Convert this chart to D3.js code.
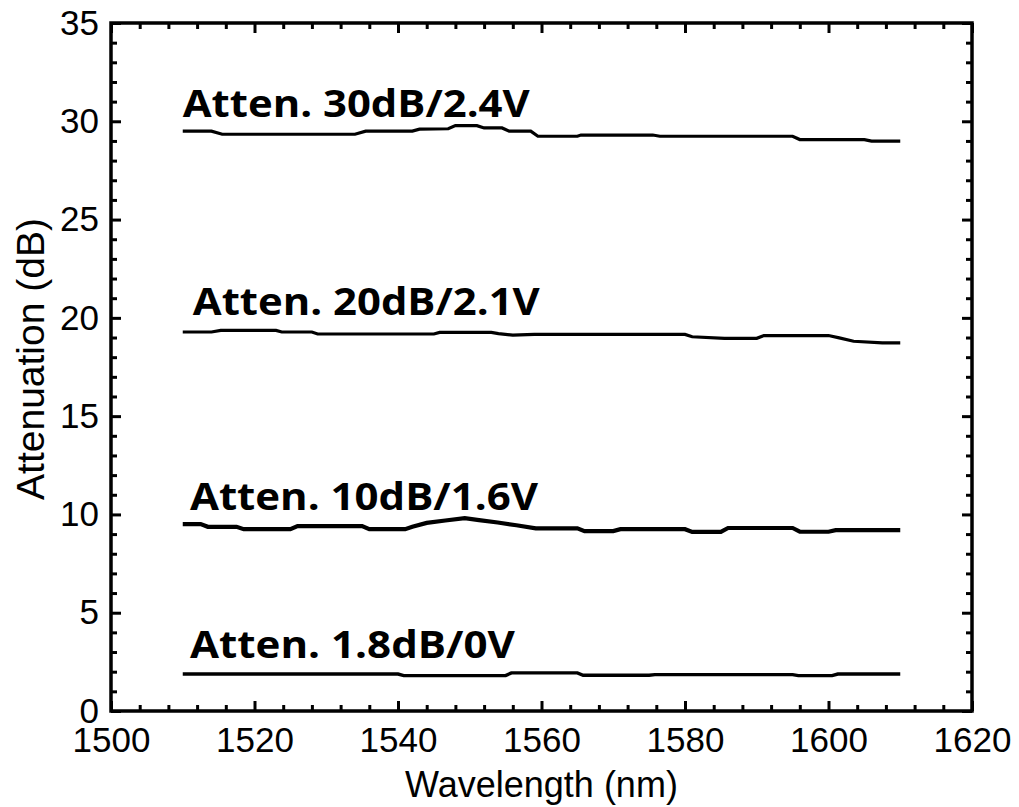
<!DOCTYPE html>
<html>
<head>
<meta charset="utf-8">
<script src="https://cdn.jsdelivr.net/npm/d3@7"></script>
<style>
  html, body { margin: 0; padding: 0; background: #fff; }
  svg { display: block; }
</style>
</head>
<body>
<svg id="chart" width="1019" height="807"></svg>
<script>
// Attenuation spectra of the variable optical attenuator at four drive voltages.

// Wavelength breakpoints (nm) and attenuation (dB) for each setting
const wl30 = [1510, 1514, 1515.5, 1534, 1535.5, 1542, 1543, 1547, 1548, 1551, 1552, 1554.5, 1555.5, 1558.5, 1559.5, 1565, 1565.5, 1575.5, 1576.5, 1595, 1596, 1605, 1606, 1610];
const att30 = [29.50, 29.50, 29.34, 29.34, 29.50, 29.50, 29.60, 29.62, 29.78, 29.78, 29.66, 29.66, 29.50, 29.50, 29.24, 29.24, 29.30, 29.30, 29.24, 29.24, 29.07, 29.07, 28.99, 28.99];

const wl20 = [1510, 1514, 1515.3, 1523, 1523.8, 1528, 1528.8, 1545, 1545.8, 1553, 1554, 1556, 1559, 1580, 1581, 1585.5, 1590, 1591, 1600, 1601.5, 1603.5, 1607.5, 1610];
const att20 = [19.28, 19.28, 19.36, 19.36, 19.28, 19.28, 19.18, 19.18, 19.26, 19.26, 19.20, 19.12, 19.16, 19.16, 19.04, 18.96, 18.96, 19.10, 19.10, 18.98, 18.81, 18.73, 18.73];

const wl10 = [1510, 1512.5, 1513.5, 1517.5, 1518.5, 1525, 1526, 1535, 1536, 1541, 1542, 1544, 1546.6, 1549.3, 1551.3, 1553.9, 1556.5, 1559.2, 1565, 1566, 1570, 1571, 1580, 1581, 1585, 1586, 1595, 1596, 1600, 1601, 1610];
const att10 = [9.51, 9.51, 9.37, 9.37, 9.25, 9.25, 9.41, 9.41, 9.25, 9.25, 9.37, 9.57, 9.69, 9.81, 9.71, 9.59, 9.45, 9.29, 9.29, 9.15, 9.15, 9.25, 9.25, 9.11, 9.11, 9.31, 9.31, 9.12, 9.12, 9.20, 9.20];

const wl18 = [1510, 1540, 1540.8, 1555, 1555.8, 1565, 1565.8, 1575, 1575.8, 1595, 1595.8, 1600.5, 1601.3, 1610];
const att18 = [1.88, 1.88, 1.80, 1.80, 1.94, 1.94, 1.82, 1.82, 1.85, 1.85, 1.80, 1.80, 1.88, 1.88];

const seriesNames = ["Atten. 30dB/2.4V", "Atten. 20dB/2.1V", "Atten. 10dB/1.6V", "Atten. 1.8dB/0V"];

const xMajorTicks = [1500, 1520, 1540, 1560, 1580, 1600, 1620];
const yMajorTicks = [0, 5, 10, 15, 20, 25, 30, 35];

const xTitle = "Wavelength (nm)";
const yTitle = "Attenuation (dB)";

// ---- layout ----
const svg = d3.select("#chart");
const plotL = 111, plotR = 972, plotT = 23, plotB = 711;

const x = d3.scaleLinear().domain([1500, 1620]).range([plotL, plotR]);
const y = d3.scaleLinear().domain([0, 35]).range([plotB, plotT]);

const xMinor = d3.range(1500, 1620.001, 4).filter(v => !xMajorTicks.includes(v));
const yMinor = d3.range(0, 35.001, 1).filter(v => !yMajorTicks.includes(v));

const tickFont = "'Liberation Sans', Arial, sans-serif";

function styleAxis(g) {
  g.select(".domain").remove();
  g.selectAll(".tick line").attr("stroke", "#000").attr("stroke-width", 3);
  g.selectAll(".tick text").attr("fill", "#000").style("font-family", tickFont).style("font-size", "35px");
}

// bottom axis with labels, ticks pointing inward
svg.append("g").attr("transform", `translate(0,${plotB})`)
  .call(d3.axisBottom(x).tickValues(xMajorTicks).tickSize(-10).tickPadding(16).tickFormat(d3.format("d")))
  .call(styleAxis);
svg.append("g").attr("transform", `translate(0,${plotB})`)
  .call(d3.axisBottom(x).tickValues(xMinor).tickSize(-6).tickFormat(""))
  .call(styleAxis);
// top mirror
svg.append("g").attr("transform", `translate(0,${plotT})`)
  .call(d3.axisTop(x).tickValues(xMajorTicks).tickSize(-10).tickFormat(""))
  .call(styleAxis);
svg.append("g").attr("transform", `translate(0,${plotT})`)
  .call(d3.axisTop(x).tickValues(xMinor).tickSize(-6).tickFormat(""))
  .call(styleAxis);
// left axis with labels
svg.append("g").attr("transform", `translate(${plotL},0)`)
  .call(d3.axisLeft(y).tickValues(yMajorTicks).tickSize(-10).tickPadding(12).tickFormat(d3.format("d")))
  .call(styleAxis);
svg.append("g").attr("transform", `translate(${plotL},0)`)
  .call(d3.axisLeft(y).tickValues(yMinor).tickSize(-6).tickFormat(""))
  .call(styleAxis);
// right mirror
svg.append("g").attr("transform", `translate(${plotR},0)`)
  .call(d3.axisRight(y).tickValues(yMajorTicks).tickSize(-10).tickFormat(""))
  .call(styleAxis);
svg.append("g").attr("transform", `translate(${plotR},0)`)
  .call(d3.axisRight(y).tickValues(yMinor).tickSize(-6).tickFormat(""))
  .call(styleAxis);

// frame
svg.append("rect")
  .attr("x", plotL).attr("y", plotT)
  .attr("width", plotR - plotL).attr("height", plotB - plotT)
  .attr("fill", "none").attr("stroke", "#000").attr("stroke-width", 3.5);

// ---- curves ----
const series = [
  { wl: wl30, att: att30, w: 3.2 },
  { wl: wl20, att: att20, w: 3.2 },
  { wl: wl10, att: att10, w: 4.2 },
  { wl: wl18, att: att18, w: 3.4 }
];
const line = d3.line().x(d => x(d[0])).y(d => y(d[1]));
series.forEach(s => {
  svg.append("path")
    .datum(d3.zip(s.wl, s.att))
    .attr("d", line)
    .attr("fill", "none")
    .attr("stroke", "#000")
    .attr("stroke-width", s.w)
    .attr("stroke-linejoin", "miter");
});

// ---- curve labels ----
const labelAnchors = [
  { wl: 1510, db: 30.2, w: 347 },
  { wl: 1511.4, db: 20.14, w: 347 },
  { wl: 1511, db: 10.22, w: 348 },
  { wl: 1511, db: 2.7, w: 325 }
];
seriesNames.forEach((name, i) => {
  const a = labelAnchors[i];
  svg.append("text")
    .attr("x", x(a.wl)).attr("y", y(a.db))
    .attr("textLength", a.w).attr("lengthAdjust", "spacingAndGlyphs")
    .style("font-family", "'Open Sans', Lato, sans-serif")
    .style("font-weight", "bold")
    .style("font-size", "37px")
    .attr("fill", "#000")
    .text(name);
});

// ---- axis titles ----
svg.append("text")
  .attr("x", (plotL + plotR) / 2).attr("y", 797)
  .attr("text-anchor", "middle")
  .style("font-family", tickFont).style("font-size", "36px")
  .attr("fill", "#000")
  .text(xTitle);

svg.append("text")
  .attr("transform", `translate(44,359) rotate(-90)`)
  .attr("text-anchor", "middle")
  .style("font-family", tickFont).style("font-size", "39px")
  .attr("fill", "#000")
  .text(yTitle);
</script>
</body>
</html>
